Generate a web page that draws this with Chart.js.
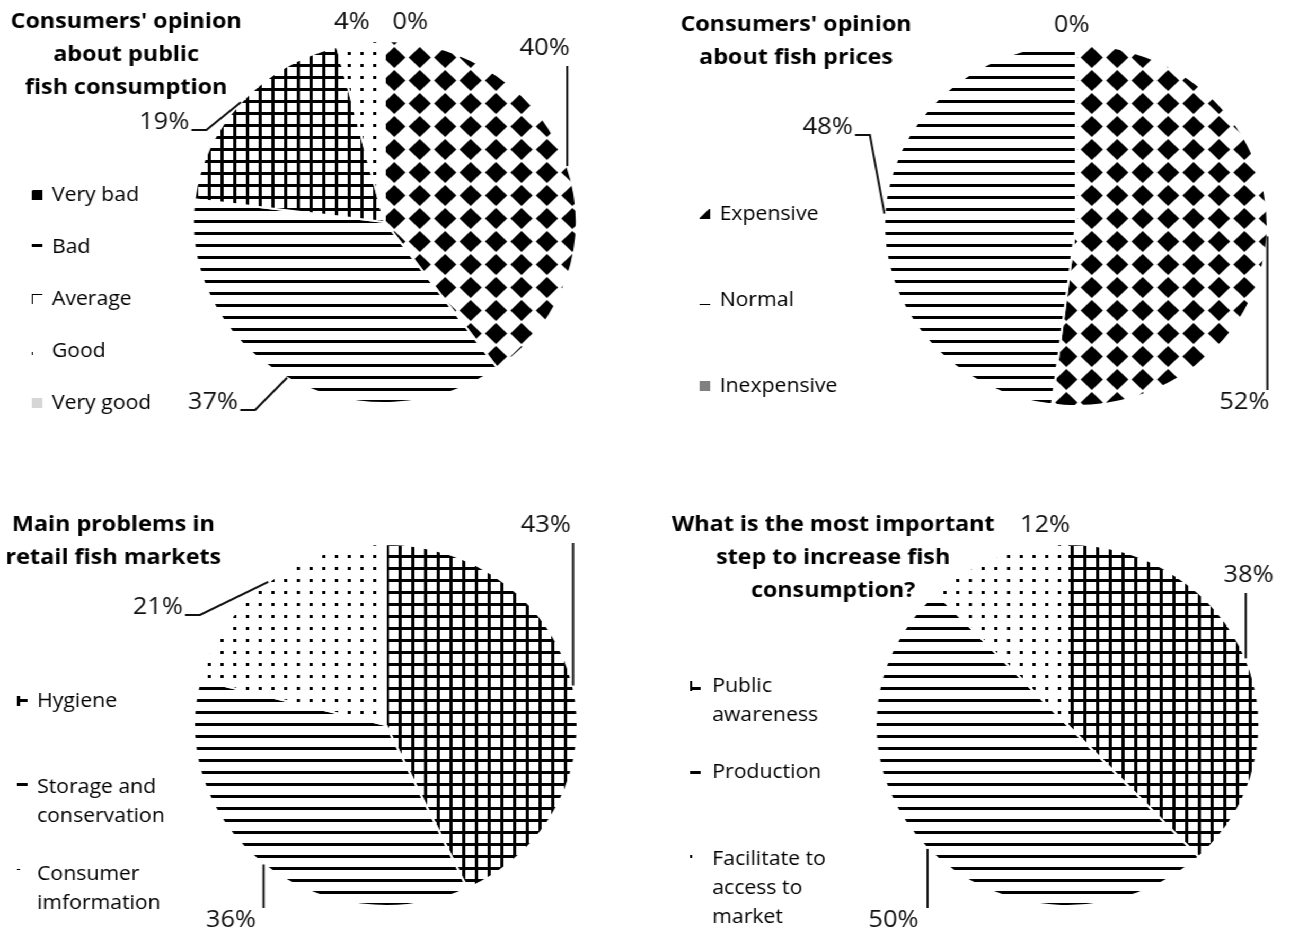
<!DOCTYPE html>
<html>
<head>
<meta charset="utf-8">
<script src="https://cdn.jsdelivr.net/npm/chart.js@4.4.1/dist/chart.umd.min.js"></script>
<style>
  html, body { margin: 0; padding: 0; background: #fff; overflow: hidden; }
  #wrap { position: absolute; left: 0; top: 0; width: 1220px; height: 934px; transform: scaleX(1.06); transform-origin: 0 0; }
  canvas { position: absolute; }
</style>
</head>
<body>
<div id="wrap">
  <canvas id="c1" width="610" height="467" style="left:0;top:0;width:610px;height:467px"></canvas>
  <canvas id="c2" width="610" height="467" style="left:610px;top:0;width:610px;height:467px"></canvas>
  <canvas id="c3" width="610" height="467" style="left:0;top:467px;width:610px;height:467px"></canvas>
  <canvas id="c4" width="610" height="467" style="left:610px;top:467px;width:610px;height:467px"></canvas>
</div>
<script>
// data
const opinionTitle = ["Consumers' opinion", 'about public', 'fish consumption'];
const opinionCats = [['Very bad'], ['Bad'], ['Average'], ['Good'], ['Very good']];
const opinionVals = [40, 37, 19, 4, 0];

const priceTitle = ["Consumers' opinion", 'about fish prices'];
const priceCats = [['Expensive'], ['Normal'], ['Inexpensive']];
const priceVals = [52, 48, 0];

const problemTitle = ['Main problems in', 'retail fish markets'];
const problemCats = [['Hygiene'], ['Storage and', 'conservation'], ['Consumer', 'imformation']];
const problemVals = [43, 36, 21];

const stepTitle = ['What is the most important', 'step to increase fish', 'consumption?'];
const stepCats = [['Public', 'awareness'], ['Production'], ['Facilitate to', 'access to', 'market']];
const stepVals = [38, 50, 12];

const FONT = '"Open Sans", "Liberation Sans", sans-serif';

// fill patterns (black on white, like the print version)
const makePattern = (kind) => {
    const c = document.createElement('canvas');
    const x = c.getContext('2d');
    c.width = 12; c.height = 12;
    if (kind === 'diamond') { c.width = 24; c.height = 23; }
    x.fillStyle = '#fff';
    x.fillRect(0, 0, c.width, c.height);
    x.fillStyle = '#000';
    if (kind === 'diamond') {
        x.beginPath();
        x.moveTo(1.5, 11.5); x.lineTo(12, 1); x.lineTo(22.5, 11.5); x.lineTo(12, 22);
        x.closePath();
        x.fill();
    } else if (kind === 'hlines') {
        x.fillRect(0, 4, 12, 3);
    } else if (kind === 'grid') {
        x.fillRect(0, 4, 12, 3);
        x.fillRect(4, 0, 3, 12);
    } else if (kind === 'dots') {
        x.fillRect(4, 4, 3, 3);
    }
    return x.createPattern(c, 'repeat');
};

const P = {
    diamond: makePattern('diamond'),
    hlines: makePattern('hlines'),
    grid: makePattern('grid'),
    dots: makePattern('dots')
};

// percent labels with leader lines from the middle of each arc
const pieLabels = {
    id: 'pieLabels',
    afterDatasetsDraw(chart, args, opts) {
        const ctx = chart.ctx;
        const meta = chart.getDatasetMeta(0);
        const vals = chart.data.datasets[0].data;
        ctx.save();
        ctx.font = '24px ' + FONT;
        ctx.textAlign = 'center';
        ctx.textBaseline = 'middle';
        ctx.fillStyle = '#111';
        ctx.strokeStyle = '#111';
        ctx.lineWidth = 2;
        meta.data.forEach((arc, i) => {
            const spot = opts.spots[i];
            const tx = arc.x + spot[0];
            const ty = arc.y + spot[1];
            const text = vals[i] + '%';
            ctx.fillText(text, tx, ty);
            if (!spot[2]) return;
            const mid = (arc.startAngle + arc.endAngle) / 2;
            const ex = arc.x + arc.outerRadius * Math.cos(mid);
            const ey = arc.y + arc.outerRadius * Math.sin(mid);
            const w = ctx.measureText(text).width;
            ctx.beginPath();
            if (tx + w / 2 + 10 < ex) {
                const ay = ty + 8;
                ctx.moveTo(tx + w / 2 + 2, ay);
                ctx.lineTo(tx + w / 2 + 16, ay);
                ctx.lineTo(ex, ey);
            } else if (ty < ey) {
                ctx.moveTo(ex, ty + 18);
                ctx.lineTo(ex, ey);
            } else {
                ctx.moveTo(ex, ty - 12);
                ctx.lineTo(ex, ey);
            }
            ctx.stroke();
        });
        ctx.restore();
    }
};

// title block and legend on the left
const sideText = {
    id: 'sideText',
    afterDraw(chart, args, opts) {
        const ctx = chart.ctx;
        const ds = chart.data.datasets[0];
        ctx.save();
        ctx.fillStyle = '#000';
        ctx.textBaseline = 'middle';
        ctx.font = 'bold 22px ' + FONT;
        ctx.textAlign = 'center';
        opts.title.forEach((line, i) => ctx.fillText(line, opts.titleX, opts.titleY + i * 33));

        ctx.font = '20px ' + FONT;
        ctx.textAlign = 'left';
        chart.data.labels.forEach((lines, i) => {
            const y = opts.legendY + i * opts.legendStep;
            ctx.fillStyle = ds.backgroundColor[i];
            ctx.fillRect(opts.swatchX, y - 5, 10, 10);
            ctx.fillStyle = '#000';
            lines.forEach((t, j) => ctx.fillText(t, opts.textX, y + j * 29));
        });
        ctx.restore();
    }
};

const makePie = (id, labels, values, fills, box, spots, side) => {
    const r = 182;
    const W = 610, H = 467;
    return new Chart(document.getElementById(id), {
        type: 'pie',
        data: {
            labels: labels,
            datasets: [{
                data: values,
                backgroundColor: fills,
                borderColor: '#fff',
                borderWidth: 2,
                hoverOffset: 0
            }]
        },
        options: {
            responsive: false,
            animation: false,
            events: [],
            layout: {
                padding: {
                    left: box.cx - r,
                    right: W - box.cx - r,
                    top: box.cy - r,
                    bottom: H - box.cy - r
                }
            },
            plugins: {
                legend: { display: false },
                tooltip: { enabled: false },
                pieLabels: { spots: spots },
                sideText: side
            }
        },
        plugins: [pieLabels, sideText]
    });
};

makePie('c1', opinionCats, opinionVals,
    [P.diamond, P.hlines, P.grid, P.dots, '#d6d6d6'],
    { cx: 363, cy: 222 },
    [[151, -174, true], [-162, 180, true], [-208, -100, true], [-31, -200, false], [24, -200, false]],
    { title: opinionTitle, titleX: 119, titleY: 22, legendY: 195, legendStep: 52, swatchX: 30, textX: 49 });

makePie('c2', priceCats, priceVals,
    [P.diamond, P.hlines, '#808080'],
    { cx: 405, cy: 225 },
    [[159, 177, true], [-234, -98, true], [-4, -200, false]],
    { title: priceTitle, titleX: 141, titleY: 25, legendY: 214, legendStep: 86, swatchX: 50, textX: 69 });

makePie('c3', problemCats, problemVals,
    [P.grid, P.hlines, P.dots],
    { cx: 364, cy: 258 },
    [[151, -200, true], [-146, 195, true], [-215, -118, true]],
    { title: problemTitle, titleX: 107, titleY: 58, legendY: 234, legendStep: 86.5, swatchX: 16, textX: 35 });

makePie('c4', stepCats, stepVals,
    [P.grid, P.hlines, P.dots],
    { cx: 397, cy: 258 },
    [[171, -150, true], [-164, 195, true], [-21, -200, false]],
    { title: stepTitle, titleX: 176, titleY: 58, legendY: 219, legendStep: 86.5, swatchX: 41, textX: 62 });
</script>
</body>
</html>
